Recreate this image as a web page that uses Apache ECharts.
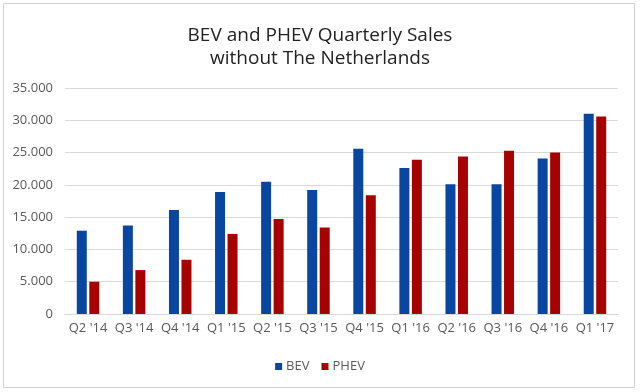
<!DOCTYPE html>
<html>
<head>
<meta charset="utf-8">
<script src="https://cdn.jsdelivr.net/npm/echarts@6/dist/echarts.min.js"></script>
<style>
html,body{margin:0;padding:0;background:#fff;}
#c{width:640px;height:392px;}
</style>
</head>
<body>
<div id="c"></div>
<script>
var categories = ["Q2 '14","Q3 '14","Q4 '14","Q1 '15","Q2 '15","Q3 '15","Q4 '15","Q1 '16","Q2 '16","Q3 '16","Q4 '16","Q1 '17"];
var bevValues  = [12900, 13700, 16100, 18900, 20500, 19200, 25600, 22600, 20100, 20100, 24100, 31000];
var phevValues = [5000, 6800, 8400, 12400, 14700, 13400, 18400, 23900, 24400, 25300, 25000, 30600];
var titleLines = "BEV and PHEV Quarterly Sales\nwithout The Netherlands";

var chart = echarts.init(document.getElementById('c'), null, {renderer:'canvas'});
var font = "'Open Sans', 'Noto Sans', sans-serif";
chart.setOption({
  animation: false,
  backgroundColor: '#fff',
  graphic: [{
    type: 'rect', shape: {x: 3.5, y: 3.5, width: 631, height: 384},
    style: {fill: 'none', stroke: '#d0d0d0', lineWidth: 1}, silent: true
  }],
  title: {
    text: titleLines, left: 'center', top: 19,
    textStyle: {fontFamily: font, fontSize: 19, fontWeight: 'normal', color: '#222', lineHeight: 23}
  },
  legend: {
    data: ['BEV','PHEV'], bottom: 14, left: 'center',
    itemWidth: 7, itemHeight: 7, itemGap: 12, icon: 'rect',
    textStyle: {fontFamily: font, fontSize: 13, color: '#595959', padding: [0,0,0,-1]}
  },
  grid: {left: 65, right: 22, top: 88, bottom: 78, containLabel: false},
  xAxis: {
    type: 'category', data: categories,
    axisLine: {lineStyle: {color: '#d9d9d9'}},
    axisTick: {show: false},
    axisLabel: {fontFamily: font, fontSize: 13, color: '#595959', margin: 8, interval: 0}
  },
  yAxis: {
    type: 'value', min: 0, max: 35000, interval: 5000,
    axisLine: {show: false}, axisTick: {show: false},
    splitLine: {lineStyle: {color: '#d9d9d9'}},
    axisLabel: {fontFamily: font, fontSize: 13, color: '#595959', margin: 12,
      formatter: function(v){ return v === 0 ? '0' : (v/1000).toFixed(0) + '.000'; }}
  },
  series: [
    {name: 'BEV', type: 'bar', data: bevValues, barWidth: 10, barGap: '25%',
     itemStyle: {color: '#0846A0'}},
    {name: 'PHEV', type: 'bar', data: phevValues, barWidth: 10,
     itemStyle: {color: '#A60202'}}
  ]
});
</script>
</body>
</html>
